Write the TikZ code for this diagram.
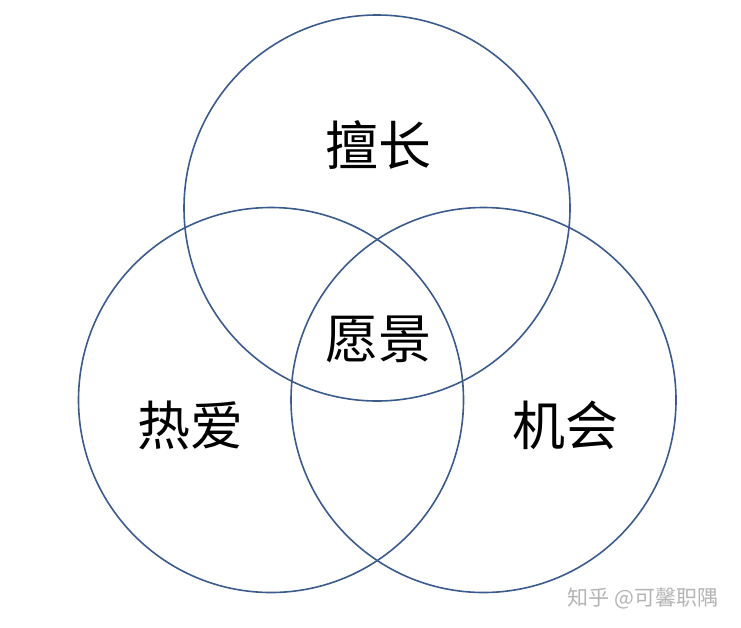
\documentclass[tikz,border=0pt]{standalone}
\usepackage{fontspec}
\newfontfamily\cjk{Noto Sans CJK SC}
\usepackage{tikz}

\begin{document}
\begin{tikzpicture}[x=1pt,y=-1pt]
\definecolor{vennLine}{HTML}{3B5B8E}
\definecolor{markGray}{HTML}{B4B4B4}
\tikzset{
  vennCircle/.style={draw=vennLine,line width=1.6pt},
  vennLabel/.style={font=\cjk\fontsize{53}{58}\selectfont,inner sep=0pt}
}
\useasboundingbox (0,0) rectangle (741,627);
\draw[vennCircle] (377,208) circle (193);
\draw[vennCircle] (271,400) circle (192.5);
\draw[vennCircle] (483.5,400) circle (192.5);
\node[vennLabel] (skill) at (378,145) {擅长};
\node[vennLabel] (vision) at (378,339) {愿景};
\node[vennLabel] (love) at (190,425) {热爱};
\node[vennLabel] (chance) at (565,425) {机会};
\node[font=\cjk\fontsize{21}{24}\selectfont,text=markGray,inner sep=0pt] (mark) at (643,598) {知乎 @可馨职隅};
\end{tikzpicture}
\end{document}
